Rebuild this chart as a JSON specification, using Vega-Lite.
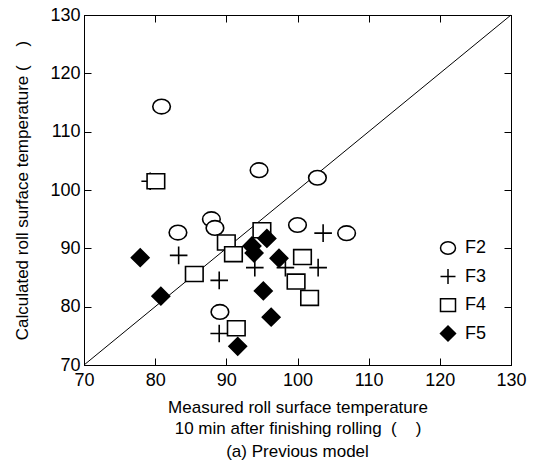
{
  "$schema": "https://vega.github.io/schema/vega-lite/v6.json",
  "width": 427,
  "height": 350,
  "autosize": {"type": "none"},
  "padding": {"left": 84, "top": 15, "right": 27, "bottom": 105},
  "background": "white",
  "title": {"text": "(a) Previous model", "orient": "bottom", "fontSize": 17, "fontWeight": "normal", "font": "Liberation Sans", "color": "black", "offset": 8},
  "config": {
    "font": "Liberation Sans",
    "view": {"stroke": "black", "strokeWidth": 1},
    "axis": {"grid": false, "domainColor": "black", "domainWidth": 1, "tickColor": "black", "tickWidth": 1, "tickSize": -7, "labelFlush": false, "labelColor": "black", "titleColor": "black", "labelFontSize": 18, "titleFontSize": 17, "titleFontWeight": "normal", "labelFont": "Liberation Sans", "titleFont": "Liberation Sans"}
  },
  "resolve": {"axis": {"x": "independent", "y": "independent"}},
  "layer": [
    {
      "data": {"values": [{"a": 70}, {"a": 130}]},
      "mark": {"type": "line", "stroke": "black", "strokeWidth": 1},
      "encoding": {
        "x": {"field": "a", "type": "quantitative", "scale": {"domain": [70, 130], "nice": false}, "axis": {"orient": "top", "labels": false, "title": null, "values": [70, 80, 90, 100, 110, 120, 130]}},
        "y": {"field": "a", "type": "quantitative", "scale": {"domain": [70, 130], "nice": false}, "axis": {"orient": "right", "labels": false, "title": null, "values": [70, 80, 90, 100, 110, 120, 130]}}
      }
    },
    {
      "data": {"values": [
        {"series": "F2", "measured": 80.9, "calculated": 114.3},
        {"series": "F2", "measured": 83.2, "calculated": 92.7},
        {"series": "F2", "measured": 87.9, "calculated": 95.0},
        {"series": "F2", "measured": 88.4, "calculated": 93.5},
        {"series": "F2", "measured": 94.6, "calculated": 103.4},
        {"series": "F2", "measured": 102.8, "calculated": 102.1},
        {"series": "F2", "measured": 100.0, "calculated": 94.0},
        {"series": "F2", "measured": 106.9, "calculated": 92.6},
        {"series": "F2", "measured": 89.1, "calculated": 79.1},
        {"series": "F3", "measured": 79.3, "calculated": 101.5},
        {"series": "F3", "measured": 83.3, "calculated": 88.8},
        {"series": "F3", "measured": 89.0, "calculated": 84.5},
        {"series": "F3", "measured": 89.0, "calculated": 75.4},
        {"series": "F3", "measured": 94.0, "calculated": 86.7},
        {"series": "F3", "measured": 98.3, "calculated": 86.7},
        {"series": "F3", "measured": 103.6, "calculated": 92.6},
        {"series": "F3", "measured": 102.9, "calculated": 86.7},
        {"series": "F4", "measured": 80.1, "calculated": 101.5},
        {"series": "F4", "measured": 85.5, "calculated": 85.6},
        {"series": "F4", "measured": 90.0, "calculated": 91.0},
        {"series": "F4", "measured": 91.0, "calculated": 89.0},
        {"series": "F4", "measured": 95.0, "calculated": 93.1},
        {"series": "F4", "measured": 100.7, "calculated": 88.5},
        {"series": "F4", "measured": 99.8, "calculated": 84.3},
        {"series": "F4", "measured": 101.7, "calculated": 81.5},
        {"series": "F4", "measured": 91.4, "calculated": 76.3},
        {"series": "F5", "measured": 77.9, "calculated": 88.4},
        {"series": "F5", "measured": 80.8, "calculated": 81.8},
        {"series": "F5", "measured": 95.7, "calculated": 91.7},
        {"series": "F5", "measured": 93.6, "calculated": 90.4},
        {"series": "F5", "measured": 93.9, "calculated": 89.2},
        {"series": "F5", "measured": 97.4, "calculated": 88.3},
        {"series": "F5", "measured": 95.2, "calculated": 82.7},
        {"series": "F5", "measured": 96.3, "calculated": 78.2},
        {"series": "F5", "measured": 91.6, "calculated": 73.2}
      ]},
      "mark": {"type": "point", "stroke": "black", "strokeWidth": 1.6, "opacity": 1, "size": 310},
      "encoding": {
        "x": {"field": "measured", "type": "quantitative", "scale": {"domain": [70, 130], "nice": false}, "axis": {"orient": "bottom", "values": [70, 80, 90, 100, 110, 120, 130], "labelPadding": 13, "titlePadding": 10, "titleLineHeight": 21, "title": ["Measured roll surface temperature", "10 min after finishing rolling\u00a0\u00a0(\u00a0\u00a0\u00a0\u00a0)"]}},
        "y": {"field": "calculated", "type": "quantitative", "scale": {"domain": [70, 130], "nice": false}, "axis": {"orient": "left", "values": [70, 80, 90, 100, 110, 120, 130], "labelPadding": 11, "titlePadding": 18, "title": "Calculated roll surface temperature\u00a0(\u00a0\u00a0\u00a0\u00a0)"}},
        "shape": {"field": "series", "type": "nominal", "scale": {"domain": ["F2", "F3", "F4", "F5"], "range": ["M-1,0A1,0.83,0,1,1,1,0A1,0.83,0,1,1,-1,0Z", "M-1,0L1,0M0,-1L0,1", "M-1,-0.85H1V0.85H-1Z", "M-1,0L0,-1L1,0L0,1Z"]},
          "legend": {"title": null, "orient": "none", "legendX": 355, "legendY": 224, "symbolSize": 225, "symbolOpacity": 1, "labelFontSize": 18, "labelColor": "black", "labelOffset": 8, "rowPadding": 7.5,
            "encode": {"symbols": {"update": {"stroke": {"value": "black"}, "strokeWidth": {"value": 1.5}, "opacity": {"value": 1}}}}}},
        "fill": {"field": "series", "type": "nominal", "scale": {"domain": ["F2", "F3", "F4", "F5"], "range": ["white", "white", "white", "black"]}}
      }
    }
  ]
}
